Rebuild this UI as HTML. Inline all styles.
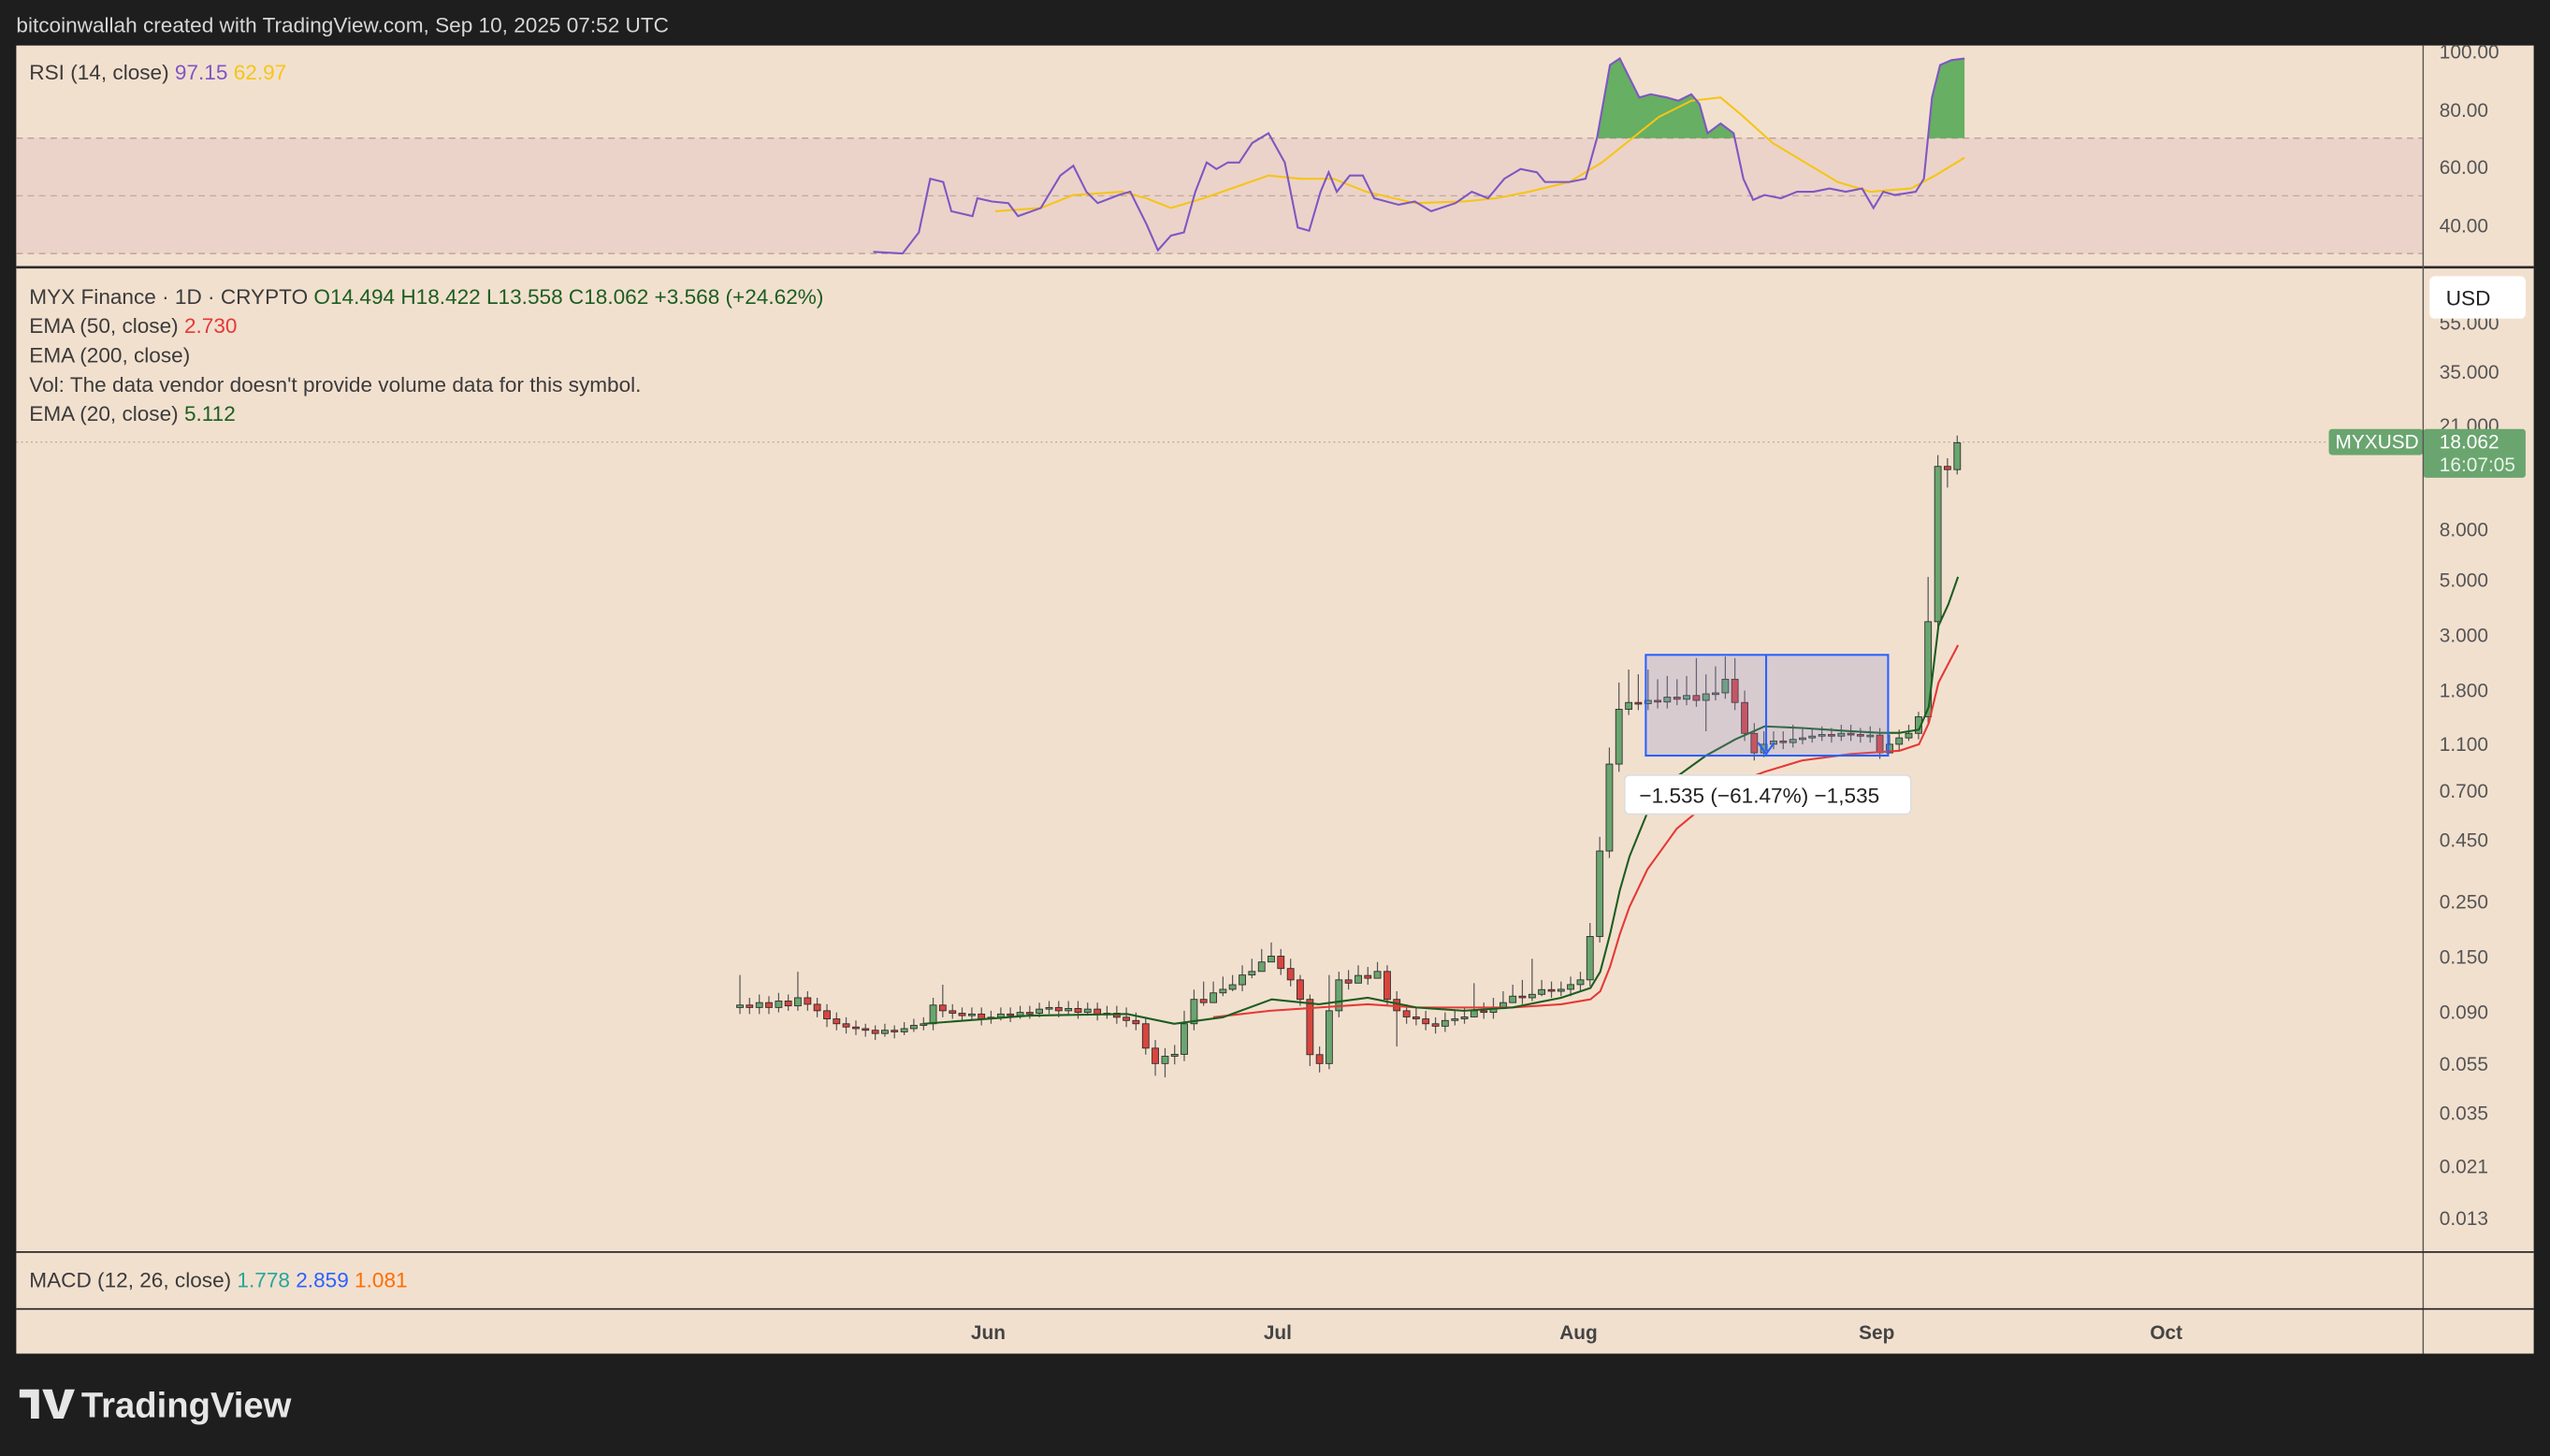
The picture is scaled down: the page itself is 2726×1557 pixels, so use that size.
<!DOCTYPE html>
<html><head><meta charset="utf-8"><style>
html,body{margin:0;padding:0;background:#1e1e1e;}
svg{display:block;}
text{font-family:"Liberation Sans",sans-serif;}
.g{fill:#6aa56f;stroke:#2b2b2b;stroke-width:0.5}
.r{fill:#d9453e;stroke:#2b2b2b;stroke-width:0.5}
</style></head><body>
<svg width="2726" height="1557" viewBox="0 0 1568 896" preserveAspectRatio="none" xmlns="http://www.w3.org/2000/svg">
<defs><clipPath id="ob"><rect x="10" y="28" width="1480" height="57"/></clipPath></defs>
<rect x="0" y="0" width="1568" height="896" fill="#1e1e1e"/>
<text x="10" y="20" font-size="13" fill="#d6d6d6">bitcoinwallah created with TradingView.com, Sep 10, 2025 07:52 UTC</text>
<rect x="10" y="28" width="1548" height="805" fill="#f2e0cf"/>
<rect x="10" y="85" width="1480" height="71" fill="#e8d0c8" opacity="0.8"/>
<line x1="10" y1="85" x2="1490" y2="85" stroke="#b89a92" stroke-dasharray="4,3" stroke-width="0.7"/>
<line x1="10" y1="120.5" x2="1490" y2="120.5" stroke="#c4a8a0" stroke-dasharray="4,3" stroke-width="0.7"/>
<line x1="10" y1="156" x2="1490" y2="156" stroke="#b89a92" stroke-dasharray="4,3" stroke-width="0.7"/>
<path clip-path="url(#ob)" fill="#4fa64f" opacity="0.85" d="M975,110 L982,85 L990,40 L996,36 L1002,48 L1008,60 L1015,58 L1025,60 L1032,62 L1040,58 L1045,64 L1050,82 L1058,76 L1066,82 L1072,110 L1072,90 L975,90 Z M1183,110 L1188,60 L1193,40 L1200,37 L1208,36 L1208,90 L1183,90 Z"/>
<polyline fill="none" stroke="#f5c518" stroke-width="1.2" points="612,130 640,128 660,120 690,118 705,122 720,128 740,122 760,115 780,108 800,110 820,110 840,118 870,125 900,124 920,122 940,118 965,112 985,100 1000,88 1020,72 1040,62 1058,60 1070,70 1090,88 1110,100 1130,112 1150,118 1175,116 1190,108 1208,97"/>
<polyline fill="none" stroke="#7e57c2" stroke-width="1.2" points="537,155 555,156 565,143 572,110 580,112 585,130 598,133 601,122 610,124 620,125 626,133 640,128 652,108 660,102 668,118 675,125 688,120 695,118 705,138 712,154 720,145 728,143 735,118 742,100 748,104 755,100 762,100 770,88 780,82 790,100 798,140 805,142 812,118 817,106 822,118 830,108 838,108 845,122 860,126 870,124 880,130 895,125 905,118 915,122 925,110 935,104 945,106 950,112 965,112 975,110 982,85 990,40 996,36 1002,48 1008,60 1015,58 1025,60 1032,62 1040,58 1045,64 1050,82 1058,76 1066,82 1072,110 1078,123 1085,120 1095,122 1105,118 1115,118 1125,116 1135,118 1145,116 1152,128 1158,118 1165,120 1178,118 1183,110 1188,60 1193,40 1200,37 1208,36"/>
<text x="18" y="49" font-size="13" fill="#3b3b3b">RSI (14, close) <tspan fill="#7e57c2">97.15</tspan> <tspan fill="#f5c518">62.97</tspan></text>
<g font-size="12" fill="#555">
<text x="1500" y="36">100.00</text><text x="1500" y="72">80.00</text><text x="1500" y="107">60.00</text><text x="1500" y="143">40.00</text>
</g>
<line x1="10" y1="164.5" x2="1558" y2="164.5" stroke="#2a2a2a" stroke-width="1.5"/>
<line x1="10" y1="272" x2="1490" y2="272" stroke="#b8a898" stroke-dasharray="1,2" stroke-width="0.8"/>
<!-- wicks -->
<path fill="none" stroke="#555" stroke-width="0.7" d="M455,600V624 M460.9,614V624 M466.9,612V624 M472.8,613V624 M478.8,611V623 M484.7,612V622 M490.6,598V622 M496.6,610V622 M502.5,614V626 M508.5,618V632 M514.4,623V634 M520.3,626V636 M526.3,628V637 M532.2,630V638 M538.2,631V640 M544.1,630V638 M550,631V639 M556,629V637 M561.9,627V635 M567.9,626V634 M573.8,614V634 M579.7,606V626 M585.7,618V627 M591.6,620V628 M597.6,620V628 M603.5,620V631 M609.4,622V630 M615.4,620V628 M621.3,620V629 M627.3,619V627 M633.2,619V627 M639.1,617V626 M645.1,616V624 M651,616V626 M657,616V624 M662.9,616V627 M668.8,617V625 M674.8,617V628 M680.7,619V627 M686.7,619V630 M692.6,620V632 M698.5,623V634 M704.5,626V649 M710.4,640V662 M716.4,645V663 M722.3,643V655 M728.2,622V653 M734.2,609V634 M740.1,604V619 M746.1,604V615 M752,601V613 M757.9,600V610 M763.9,594V610 M769.8,590V602 M775.8,584V596 M781.7,580V592 M787.6,584V600 M793.6,590V607 M799.5,600V619 M805.5,612V656 M811.4,644V660 M817.3,600V658 M823.3,598V626 M829.2,597V609 M835.2,594V605 M841.1,595V606 M847,592V602 M853,594V619 M858.9,610V644 M864.9,618V630 M870.8,620V631 M876.7,622V634 M882.7,626V636 M888.6,623V635 M894.6,622V631 M900.5,620V630 M906.4,605V626 M912.4,617V627 M918.3,614V627 M924.3,610V621 M930.2,606V617 M936.1,603V618 M942.1,590V616 M948,603V613 M954,604V614 M959.9,604V613 M965.8,601V613 M971.8,598V610 M977.7,568V607 M983.7,515V580 M989.6,460V528 M995.5,420V475 M1001.5,412V440 M1007.4,415V437 M1013.4,412V437 M1019.3,418V436 M1025.2,416V436 M1031.2,418V434 M1037.1,416V434 M1043.1,405V435 M1049,415V450 M1054.9,410V431 M1060.9,404V430 M1066.8,405V437 M1072.8,425V456 M1078.7,445V468 M1084.6,450V466 M1090.6,450V461 M1096.5,450V461 M1102.5,446V460 M1108.4,448V458 M1114.3,448V457 M1120.3,447V456 M1126.2,448V457 M1132.2,446V456 M1138.1,446V456 M1144,448V457 M1150,447V457 M1155.9,448V467 M1161.9,452V463 M1167.8,449V462 M1173.7,446V456 M1179.7,438V455 M1185.6,355V445 M1191.6,280V386 M1197.5,282V300 M1203.5,268V292"/>
<g>
<rect class="g" x="453" y="618.5" width="4" height="1.5"/><rect class="r" x="458.9" y="618.5" width="4" height="1.5"/><rect class="g" x="464.9" y="617" width="4" height="3"/><rect class="r" x="470.8" y="617" width="4" height="3"/><rect class="g" x="476.8" y="616" width="4" height="4"/><rect class="r" x="482.7" y="616" width="4" height="3"/><rect class="g" x="488.6" y="614" width="4" height="5"/><rect class="r" x="494.6" y="614" width="4" height="4"/><rect class="r" x="500.5" y="618" width="4" height="4"/><rect class="r" x="506.5" y="622" width="4" height="5"/><rect class="r" x="512.4" y="627" width="4" height="3"/><rect class="r" x="518.3" y="630" width="4" height="2"/><rect class="r" x="524.3" y="632" width="4" height="1"/><rect class="r" x="530.2" y="633" width="4" height="1"/><rect class="r" x="536.2" y="634" width="4" height="2"/><rect class="g" x="542.1" y="634" width="4" height="2"/><rect class="r" x="548" y="634" width="4" height="1"/><rect class="g" x="554" y="633" width="4" height="2"/><rect class="g" x="559.9" y="631" width="4" height="2"/><rect class="g" x="565.9" y="630" width="4" height="1"/><rect class="g" x="571.8" y="618.5" width="4" height="11.5"/><rect class="r" x="577.7" y="618.5" width="4" height="3.5"/><rect class="r" x="583.7" y="622" width="4" height="1.5"/><rect class="r" x="589.6" y="623.5" width="4" height="1.5"/><rect class="g" x="595.6" y="624" width="4" height="1"/><rect class="r" x="601.5" y="624" width="4" height="3"/><rect class="g" x="607.4" y="626" width="4" height="1"/><rect class="g" x="613.4" y="624" width="4" height="2"/><rect class="r" x="619.3" y="624" width="4" height="1"/><rect class="g" x="625.3" y="623" width="4" height="2"/><rect class="r" x="631.2" y="623" width="4" height="1"/><rect class="g" x="637.1" y="621" width="4" height="2.5"/><rect class="g" x="643.1" y="620" width="4" height="1"/><rect class="r" x="649" y="620" width="4" height="2"/><rect class="g" x="655" y="620.6" width="4" height="1.4"/><rect class="r" x="660.9" y="620.6" width="4" height="2.4"/><rect class="g" x="666.8" y="621" width="4" height="2"/><rect class="r" x="672.8" y="621" width="4" height="3"/><rect class="g" x="678.7" y="623.5" width="4" height="1"/><rect class="r" x="684.7" y="623.5" width="4" height="2.5"/><rect class="r" x="690.6" y="626" width="4" height="2"/><rect class="r" x="696.5" y="628" width="4" height="2"/><rect class="r" x="702.5" y="630" width="4" height="15"/><rect class="r" x="708.4" y="645" width="4" height="9.5"/><rect class="g" x="714.4" y="650" width="4" height="4.5"/><rect class="g" x="720.3" y="648.8" width="4" height="1.2"/><rect class="g" x="726.2" y="630" width="4" height="18.8"/><rect class="g" x="732.2" y="615" width="4" height="15"/><rect class="r" x="738.1" y="615" width="4" height="2"/><rect class="g" x="744.1" y="611" width="4" height="6"/><rect class="g" x="750" y="608.8" width="4" height="2.2"/><rect class="g" x="755.9" y="606" width="4" height="2.8"/><rect class="g" x="761.9" y="600" width="4" height="6"/><rect class="g" x="767.8" y="597.8" width="4" height="2.2"/><rect class="g" x="773.8" y="592" width="4" height="5.8"/><rect class="g" x="779.7" y="588.4" width="4" height="3.6"/><rect class="r" x="785.6" y="588.4" width="4" height="7.6"/><rect class="r" x="791.6" y="596" width="4" height="7"/><rect class="r" x="797.5" y="603" width="4" height="12"/><rect class="r" x="803.5" y="615" width="4" height="34"/><rect class="r" x="809.4" y="649" width="4" height="5.5"/><rect class="g" x="815.3" y="622" width="4" height="32.5"/><rect class="g" x="821.3" y="603" width="4" height="19"/><rect class="r" x="827.2" y="603" width="4" height="2"/><rect class="g" x="833.2" y="600.3" width="4" height="4.7"/><rect class="r" x="839.1" y="600.3" width="4" height="1.7"/><rect class="g" x="845" y="597.8" width="4" height="4.2"/><rect class="r" x="851" y="597.8" width="4" height="17.2"/><rect class="r" x="856.9" y="615" width="4" height="7"/><rect class="r" x="862.9" y="622" width="4" height="3.8"/><rect class="r" x="868.8" y="625.8" width="4" height="1.2"/><rect class="r" x="874.7" y="627" width="4" height="3"/><rect class="r" x="880.7" y="630" width="4" height="1.5"/><rect class="g" x="886.6" y="628" width="4" height="3.5"/><rect class="g" x="892.6" y="627" width="4" height="1"/><rect class="g" x="898.5" y="625.8" width="4" height="1.2"/><rect class="g" x="904.4" y="622" width="4" height="3.8"/><rect class="r" x="910.4" y="622" width="4" height="1"/><rect class="g" x="916.3" y="620.6" width="4" height="2.4"/><rect class="g" x="922.3" y="617" width="4" height="3.6"/><rect class="g" x="928.2" y="613" width="4" height="4"/><rect class="r" x="934.1" y="613" width="4" height="1"/><rect class="g" x="940.1" y="611.9" width="4" height="2.1"/><rect class="g" x="946" y="609" width="4" height="2.9"/><rect class="r" x="952" y="609" width="4" height="1"/><rect class="g" x="957.9" y="608.8" width="4" height="1.2"/><rect class="g" x="963.8" y="605.9" width="4" height="2.9"/><rect class="g" x="969.8" y="603" width="4" height="2.9"/><rect class="g" x="975.7" y="576.3" width="4" height="26.7"/><rect class="g" x="981.7" y="523.7" width="4" height="52.6"/><rect class="g" x="987.6" y="470.2" width="4" height="53.5"/><rect class="g" x="993.5" y="436.5" width="4" height="33.7"/><rect class="g" x="999.5" y="432.3" width="4" height="4.2"/><rect class="r" x="1005.4" y="432.3" width="4" height="1"/><rect class="g" x="1011.4" y="431" width="4" height="2"/><rect class="r" x="1017.3" y="431" width="4" height="1"/><rect class="g" x="1023.2" y="429" width="4" height="3"/><rect class="r" x="1029.2" y="429" width="4" height="1.3"/><rect class="g" x="1035.1" y="428" width="4" height="2.3"/><rect class="r" x="1041.1" y="428" width="4" height="3"/><rect class="g" x="1047" y="427" width="4" height="4"/><rect class="g" x="1052.9" y="426.4" width="4" height="1"/><rect class="g" x="1058.9" y="418" width="4" height="8.4"/><rect class="r" x="1064.8" y="418" width="4" height="14.3"/><rect class="r" x="1070.8" y="432.3" width="4" height="19"/><rect class="r" x="1076.7" y="451.3" width="4" height="12"/><rect class="g" x="1082.6" y="458" width="4" height="5.3"/><rect class="g" x="1088.6" y="456" width="4" height="2"/><rect class="r" x="1094.5" y="456" width="4" height="1"/><rect class="g" x="1100.5" y="455" width="4" height="2"/><rect class="g" x="1106.4" y="454.1" width="4" height="1"/><rect class="g" x="1112.3" y="453" width="4" height="1.1"/><rect class="g" x="1118.3" y="452" width="4" height="1"/><rect class="r" x="1124.2" y="452" width="4" height="1"/><rect class="g" x="1130.2" y="451.3" width="4" height="1.7"/><rect class="r" x="1136.1" y="451.3" width="4" height="1"/><rect class="r" x="1142" y="452" width="4" height="1"/><rect class="g" x="1148" y="452.4" width="4" height="1"/><rect class="r" x="1153.9" y="452.4" width="4" height="10.9"/><rect class="g" x="1159.9" y="458" width="4" height="5.3"/><rect class="g" x="1165.8" y="454.1" width="4" height="3.9"/><rect class="g" x="1171.7" y="451.3" width="4" height="2.8"/><rect class="g" x="1177.7" y="441.1" width="4" height="10.2"/><rect class="g" x="1183.6" y="382.6" width="4" height="58.5"/><rect class="g" x="1189.6" y="287" width="4" height="95.6"/><rect class="r" x="1195.5" y="287" width="4" height="2"/><rect class="g" x="1201.5" y="272.5" width="4" height="16.5"/>
</g>
<polyline fill="none" stroke="#e53935" stroke-width="1.2" points="746,626 781,622 811,620 841,618 871,620 930,620 960,618 978,615 984,610 990,595 996,575 1002,558 1013,535 1031,510 1049,495 1067,482 1085,475 1108,468 1138,464 1168,462 1180,458 1186,445 1192,420 1204,397"/>
<polyline fill="none" stroke="#1b5e20" stroke-width="1.2" points="568,630 633,625 693,624 722,630 752,626 782,615 811,618 841,614 871,620 900,622 930,620 960,614 978,608 984,598 990,575 996,548 1002,527 1013,500 1031,478 1049,465 1067,455 1085,447 1108,448 1138,450 1156,451 1168,451 1180,449 1186,435 1192,385 1198,372 1204,355"/>
<rect x="1012" y="403" width="149" height="62" fill="#8a8ad0" fill-opacity="0.25" stroke="#2962ff" stroke-width="1.2"/>
<line x1="1086" y1="403" x2="1086" y2="462" stroke="#2962ff" stroke-width="1.2"/>
<path d="M1081,457 L1086,464 L1091,457" fill="none" stroke="#2962ff" stroke-width="1.2"/>
<rect x="999" y="477" width="176" height="24" rx="3" fill="#fff" stroke="#ddd"/>
<text x="1008" y="494" font-size="13" fill="#222">−1.535 (−61.47%) −1,535</text>
<g font-size="13" fill="#3b3b3b">
<text x="18" y="187">MYX Finance · 1D · CRYPTO  <tspan fill="#1b5e20">O14.494 H18.422 L13.558 C18.062 +3.568 (+24.62%)</tspan></text>
<text x="18" y="205">EMA (50, close) <tspan fill="#e53935">2.730</tspan></text>
<text x="18" y="223">EMA (200, close)</text>
<text x="18" y="241">Vol: The data vendor doesn't provide volume data for this symbol.</text>
<text x="18" y="259">EMA (20, close) <tspan fill="#1b5e20">5.112</tspan></text>
</g>
<g font-size="12" fill="#555">
<text x="1500" y="203">55.000</text><text x="1500" y="233">35.000</text><text x="1500" y="266">21.000</text>
<text x="1500" y="330">8.000</text><text x="1500" y="361">5.000</text><text x="1500" y="395">3.000</text>
<text x="1500" y="429">1.800</text><text x="1500" y="462">1.100</text><text x="1500" y="491">0.700</text>
<text x="1500" y="521">0.450</text><text x="1500" y="559">0.250</text><text x="1500" y="593">0.150</text>
<text x="1500" y="627">0.090</text><text x="1500" y="659">0.055</text><text x="1500" y="689">0.035</text>
<text x="1500" y="722">0.021</text><text x="1500" y="754">0.013</text>
</g>
<rect x="1494" y="170" width="59" height="26" rx="3" fill="#fff"/>
<text x="1504" y="188" font-size="13" fill="#222">USD</text>
<rect x="1432" y="264" width="58" height="16" rx="2" fill="#6aa56f"/>
<text x="1436" y="276" font-size="12" fill="#fff">MYXUSD</text>
<rect x="1490" y="264" width="63" height="30" rx="2" fill="#6aa56f"/>
<text x="1500" y="276" font-size="12" fill="#fff">18.062</text>
<text x="1500" y="290" font-size="12" fill="#e8f5e8">16:07:05</text>
<line x1="1490" y1="28" x2="1490" y2="833" stroke="#555" stroke-width="0.8"/>
<line x1="10" y1="770.5" x2="1558" y2="770.5" stroke="#2a2a2a" stroke-width="1"/>
<text x="18" y="792" font-size="13" fill="#3b3b3b">MACD (12, 26, close) <tspan fill="#26a69a">1.778</tspan> <tspan fill="#2962ff">2.859</tspan> <tspan fill="#ff6d00">1.081</tspan></text>
<line x1="10" y1="805.5" x2="1558" y2="805.5" stroke="#2a2a2a" stroke-width="1"/>
<g font-size="12" font-weight="bold" fill="#444">
<text x="597" y="824">Jun</text><text x="777" y="824">Jul</text><text x="959" y="824">Aug</text><text x="1143" y="824">Sep</text><text x="1322" y="824">Oct</text>
</g>
<g transform="translate(12,853)">
<path d="M0,2 H12 V20 H7 V7 H0 Z M14,2 H20 L24,16 L28,2 H34 L27,20 H21 Z" fill="#e6e6e6"/>
</g>
<text x="50" y="872" font-size="22" font-weight="bold" fill="#e6e6e6">TradingView</text>
</svg>
</body></html>
